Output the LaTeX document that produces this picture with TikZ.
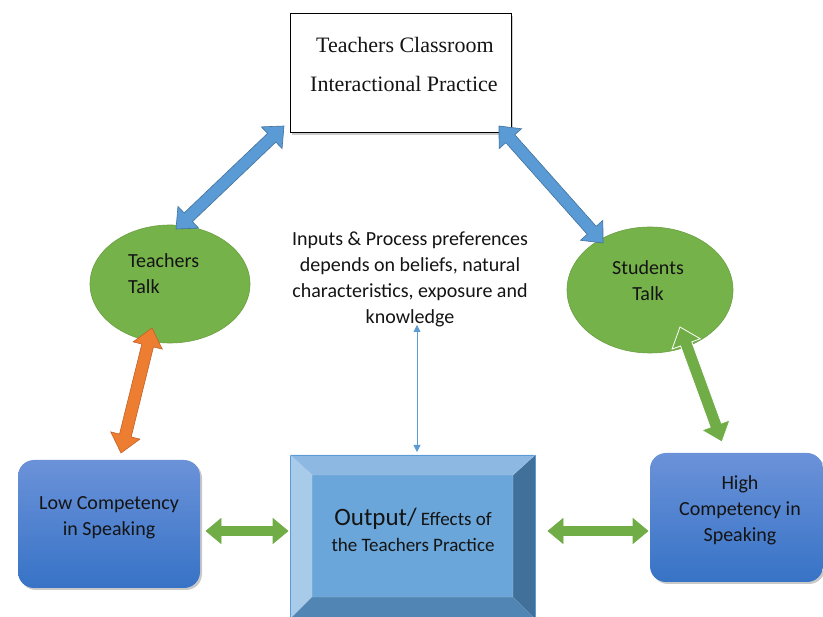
\documentclass[tikz,border=0pt]{standalone}
\usepackage{fontspec}
\setmainfont{Liberation Serif}
\setsansfont{Carlito}
\usetikzlibrary{calc,shapes.geometric,shadows,arrows.meta}
\definecolor{arrblue}{HTML}{5B9BD5}
\definecolor{arrblueline}{HTML}{41719C}
\definecolor{grn}{HTML}{76B24A}
\definecolor{grnline}{HTML}{6A9F42}
\definecolor{arrgrn}{HTML}{70AD47}
\definecolor{org}{HTML}{ED7D31}
\definecolor{orgline}{HTML}{C0622A}
\definecolor{boxtop}{HTML}{6B92D9}
\definecolor{boxbot}{HTML}{3773C6}
\definecolor{bvtop}{HTML}{8DB8E2}
\definecolor{bvleft}{HTML}{A9CBEA}
\definecolor{bvright}{HTML}{41709A}
\definecolor{bvbot}{HTML}{5185B4}
\definecolor{bvface}{HTML}{6AA6D9}
\definecolor{txt}{HTML}{141414}
\tikzset{
  talk/.style={ellipse,fill=grn,draw=grnline,line width=0.6pt,inner sep=0pt},
  sanslabel/.style={font=\sffamily\fontsize{20}{26}\selectfont,text=txt,inner sep=0pt},
  compbox/.style={rounded corners=16pt,top color=boxtop,bottom color=boxbot,draw=none,
     drop shadow={shadow xshift=2pt,shadow yshift=-2pt,opacity=0.35,fill=black!60}},
  topbox/.style={draw=black,line width=1pt,fill=white,
     drop shadow={shadow xshift=2pt,shadow yshift=-2pt,opacity=0.4,fill=black!50}},
  bluearrow/.style={fill=arrblue,draw=arrblueline,line width=0.6pt},
  orangearrow/.style={fill=org,draw=orgline,line width=0.6pt},
  greenarrow/.style={fill=arrgrn,draw=arrgrn,line width=0.6pt},
  greenarrowwhite/.style={fill=arrgrn,draw=white,line width=0.8pt},
  thinarrow/.style={draw=arrblue,line width=0.8pt,{Triangle[length=7pt,width=7pt]}-{Triangle[length=7pt,width=7pt]}},
}
% #1 start, #2 end, #3 style, #4 shaft half, #5 head half, #6 head length
\newcommand\fatarrow[6]{%
  \coordinate (fah1) at ($(#1)!#6!(#2)$);
  \coordinate (fah2) at ($(#2)!#6!(#1)$);
  \path[#3] (#1) -- ($(fah1)!#5!90:(#2)$) -- ($(fah1)!#4!90:(#2)$)
    -- ($(fah2)!#4!-90:(#1)$) -- ($(fah2)!#5!-90:(#1)$) -- (#2)
    -- ($(fah2)!#5!90:(#1)$) -- ($(fah2)!#4!90:(#1)$)
    -- ($(fah1)!#4!-90:(#2)$) -- ($(fah1)!#5!-90:(#2)$) -- cycle;
}
\begin{document}
\begin{tikzpicture}[x=1pt,y=-1pt]
\useasboundingbox (0,0) rectangle (823,617);
\fill[white] (0,0) rectangle (823,617);

% top box
\path[topbox] (290,14) rectangle (511,133);
\node[font=\fontsize{22}{39}\selectfont,text=txt,align=left,anchor=north west,inner sep=0pt] (top) at (310,37)
  {\hspace*{6pt}Teachers Classroom\\Interactional Practice};

% ellipses
\node[talk,minimum width=160pt,minimum height=118pt] (tt) at (170,284) {};
\node[sanslabel,align=left,anchor=north west] (ttl) at (128,253) {Teachers\\Talk};
\node[talk,minimum width=166pt,minimum height=126pt] (st) at (650,290) {};
\node[sanslabel,align=center] (stl) at (648,281) {Students\\Talk};

% competency boxes
\path[compbox] (18,460) rectangle (200,588);
\node[sanslabel,align=center] (low) at (109,518) {Low Competency\\in Speaking};
\path[compbox] (650,453) rectangle (823,582);
\node[sanslabel,align=center] (high) at (740,510) {High\\Competency in\\Speaking};

% bevel box
\fill[bvface] (312,475) rectangle (513,597);
\fill[bvtop] (290,455) -- (535,455) -- (513,475) -- (312,475) -- cycle;
\fill[bvleft] (290,455) -- (312,475) -- (312,597) -- (290,619) -- cycle;
\fill[bvright] (535,455) -- (535,619) -- (513,597) -- (513,475) -- cycle;
\fill[bvbot] (290,619) -- (312,597) -- (513,597) -- (535,619) -- cycle;
\draw[arrblue,line width=0.6pt] (290,455) rectangle (535,619);
\draw[bvtop!70!white,line width=0.4pt] (290,455) -- (312,475) (535,455) -- (513,475) (312,475) rectangle (513,597);
\node[sanslabel,font=\sffamily\fontsize{19}{26}\selectfont,align=center] (out) at (413,530)
  {{\fontsize{25}{26}\selectfont Output/} Effects of\\the Teachers Practice};

% middle text
\node[sanslabel,align=center] (mid) at (410,279)
  {Inputs \& Process preferences\\depends on beliefs, natural\\characteristics, exposure and\\knowledge};

% connectors
\coordinate (a1) at (284,126);
\coordinate (a2) at (176,229);
\fatarrow{a1}{a2}{bluearrow}{6pt}{15pt}{17pt}
\coordinate (b1) at (499,126);
\coordinate (b2) at (603,243);
\fatarrow{b1}{b2}{bluearrow}{6pt}{15pt}{17pt}
\coordinate (c1) at (152,328);
\coordinate (c2) at (121,453);
\fatarrow{c1}{c2}{orangearrow}{6pt}{15pt}{18pt}
\coordinate (d1) at (680,327);
\coordinate (d2) at (722,442);
\fatarrow{d1}{d2}{greenarrowwhite}{6pt}{15pt}{18pt}
\coordinate (e1) at (206,531);
\coordinate (e2) at (288,531);
\fatarrow{e1}{e2}{greenarrow}{4.5pt}{12.5pt}{15pt}
\coordinate (f1) at (548,531);
\coordinate (f2) at (648,531);
\fatarrow{f1}{f2}{greenarrow}{4.5pt}{12.5pt}{15pt}
\coordinate (g1) at (417,325);
\coordinate (g2) at (417,452);
\draw[thinarrow] (g1) -- (g2);
\end{tikzpicture}
\end{document}
